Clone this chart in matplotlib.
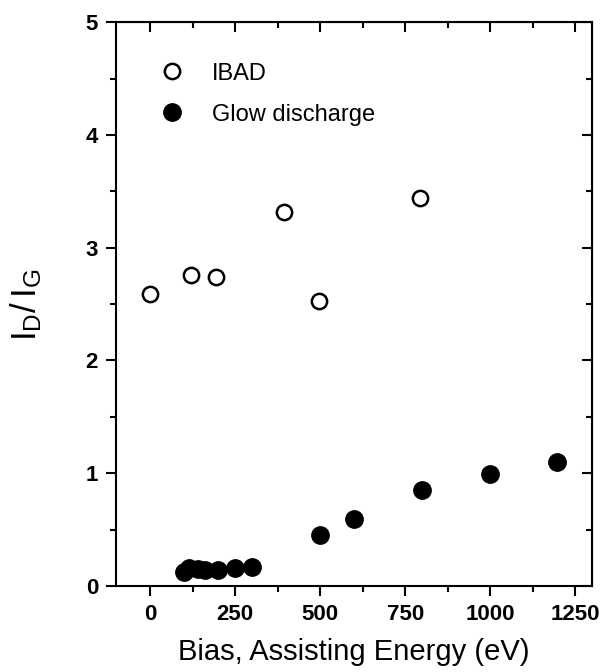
import matplotlib
matplotlib.use("Agg")
import matplotlib.pyplot as plt
from matplotlib.ticker import MultipleLocator

# IBAD (open circles)
ibad_x = [0, 120, 195, 395, 497, 795]
ibad_y = [2.59, 2.76, 2.74, 3.32, 2.53, 3.44]

# Glow discharge (filled circles)
glow_x = [100, 115, 140, 160, 200, 250, 300, 500, 600, 800, 1000, 1197]
glow_y = [0.12, 0.16, 0.15, 0.14, 0.14, 0.16, 0.17, 0.45, 0.59, 0.85, 0.99, 1.10]

plt.rcParams['font.family'] = ['Liberation Sans', 'DejaVu Sans']
plt.rcParams['mathtext.default'] = 'regular'

fig = plt.figure(figsize=(6.08, 6.72), dpi=100)
ax = fig.add_axes([0.191, 0.128, 0.783, 0.839])

ax.plot(ibad_x, ibad_y, 'o', mfc='white', mec='black', mew=1.8, ms=11,
        label='IBAD', linestyle='none')
ax.plot(glow_x, glow_y, 'o', mfc='black', mec='black', ms=12.5,
        label='Glow discharge', linestyle='none')

ax.set_xlim(-100, 1300)
ax.set_ylim(0, 5)
ax.xaxis.set_major_locator(MultipleLocator(250))
ax.xaxis.set_minor_locator(MultipleLocator(125))
ax.yaxis.set_major_locator(MultipleLocator(1))
ax.yaxis.set_minor_locator(MultipleLocator(0.5))

for s in ax.spines.values():
    s.set_linewidth(1.5)

ax.tick_params(which='both', direction='out', width=1.5, labelsize=16,
               top=False, right=False)
ax.tick_params(which='major', length=7, pad=6)
ax.tick_params(which='minor', length=4.5)
for lab in ax.get_xticklabels() + ax.get_yticklabels():
    lab.set_fontweight('bold')

# inward ticks on top and right
sec_x = ax.secondary_xaxis('top')
sec_x.xaxis.set_major_locator(MultipleLocator(250))
sec_x.xaxis.set_minor_locator(MultipleLocator(125))
sec_x.tick_params(which='both', direction='in', width=1.5, labeltop=False)
sec_x.tick_params(which='major', length=7)
sec_x.tick_params(which='minor', length=4.5)
sec_y = ax.secondary_yaxis('right')
sec_y.yaxis.set_major_locator(MultipleLocator(1))
sec_y.yaxis.set_minor_locator(MultipleLocator(0.5))
sec_y.tick_params(which='both', direction='in', width=1.5, labelright=False)
sec_y.tick_params(which='major', length=7)
sec_y.tick_params(which='minor', length=4.5)

ax.set_xlabel('Bias, Assisting Energy (eV)', fontsize=21, labelpad=9)
ax.set_ylabel(r'$I_D/\,I_G$', fontsize=25, labelpad=30)

leg = ax.legend(loc='upper left', bbox_to_anchor=(0.067, 0.945), frameon=False,
                fontsize=17, handletextpad=1.1, labelspacing=0.8,
                handlelength=1.2, borderaxespad=0)

fig.savefig('out.png', dpi=100)
